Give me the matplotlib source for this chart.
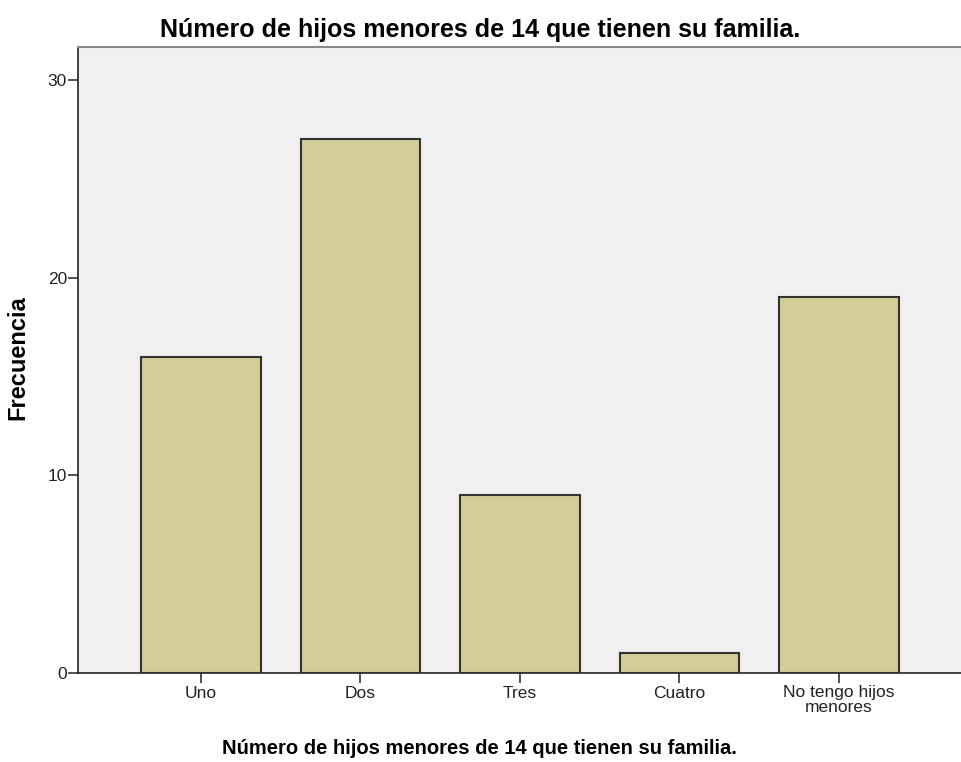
import matplotlib.pyplot as plt

plt.rcParams['font.family'] = ['Liberation Sans', 'DejaVu Sans']

categories = ['Uno', 'Dos', 'Tres', 'Cuatro', 'No tengo hijos\nmenores']
frecuencia = [16, 27, 9, 1, 19]
yticks = [0, 10, 20, 30]
titulo = 'Número de hijos menores de 14 que tienen su familia.'

fig = plt.figure(figsize=(9.61, 7.62), dpi=100)
ax = fig.add_axes([78 / 961, 89 / 762, 1 - 78 / 961, (673 - 47) / 762])
ax.set_facecolor('#F0F0F0')

pos = range(len(categories))
ax.bar(pos, frecuencia, width=0.75, color='#D3CE97', edgecolor='#333333', linewidth=1.5, zorder=3)

ax.set_xlim(-0.771, 4.765)
ax.set_ylim(0, 31.67)
ax.set_yticks(yticks)
ax.set_xticks(list(pos))
ax.set_xticklabels(categories, fontsize=12.5, linespacing=0.95)
ax.tick_params(axis='y', labelsize=12.5, length=7, width=1.2, color='#333333', labelcolor='#222222', pad=1)
ax.tick_params(axis='x', length=7, width=1.2, color='#333333', labelcolor='#222222', pad=2)

ax.spines['right'].set_visible(False)
ax.spines['top'].set_color('#888888')
ax.spines['top'].set_linewidth(1.5)
ax.spines['left'].set_color('#222222')
ax.spines['bottom'].set_color('#222222')
ax.spines['left'].set_linewidth(1.2)
ax.spines['bottom'].set_linewidth(1.2)

fig.text(0.5, 1 - 30 / 762, titulo, ha='center', va='center', fontsize=18, fontweight='bold')
fig.text(479 / 961, 1 - 748 / 762, titulo, ha='center', va='center', fontsize=14.5, fontweight='bold')
fig.text(18 / 961, 1 - 358 / 762, 'Frecuencia', ha='center', va='center', rotation=90, fontsize=17, fontweight='bold')

fig.savefig('out.png', dpi=100)
